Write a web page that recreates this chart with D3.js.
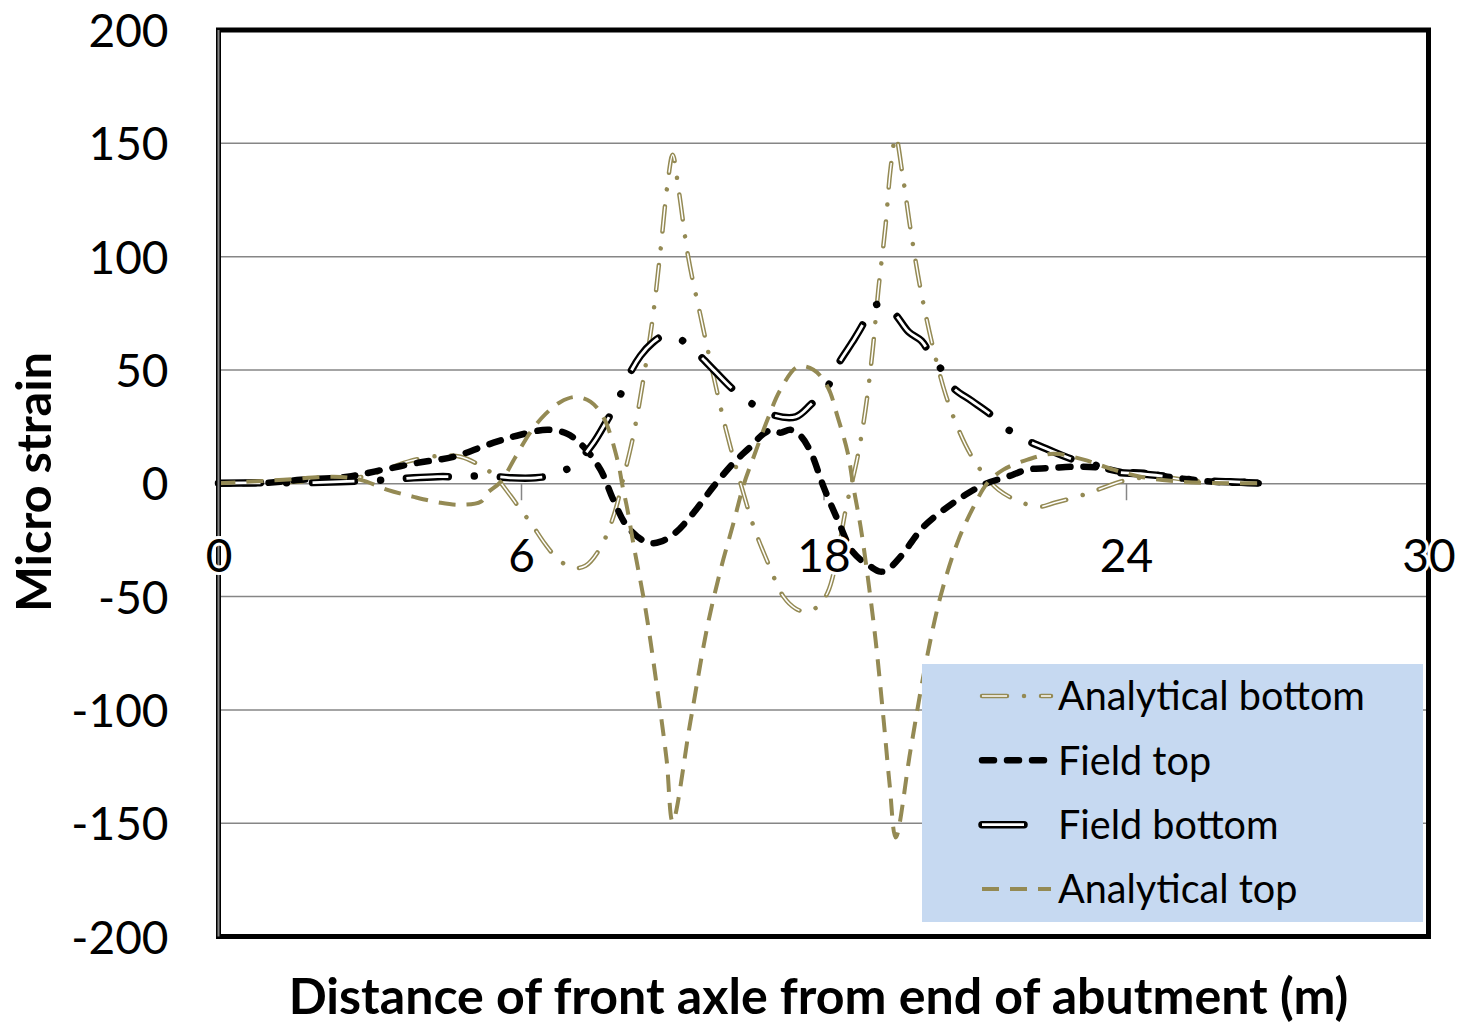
<!DOCTYPE html>
<html><head><meta charset="utf-8">
<script src="https://cdn.jsdelivr.net/npm/d3@7"></script>
<style>body{margin:0;background:#fff} svg{display:block}</style>
</head><body>
<svg id="chart" width="1462" height="1027"></svg>
<script>
// ---------------- DATA ----------------
const xTickValues = [0, 7.5, 15, 22.5, 30];
const xTickLabels = ["0", "6", "18", "24", "30"];
const yTickValues = [-200, -150, -100, -50, 0, 50, 100, 150, 200];
const seriesNames = ["Analytical bottom", "Field top", "Field bottom", "Analytical top"];

const analyticalBottom = [
 [0,0],[1.04,0.2],[2.03,0.7],[3.02,1.5],[3.6,3.0],[4.14,6.0],[4.76,9.9],[5.5,12.1],[6.0,11.7],[6.45,8.2],
 [6.82,3.7],[7.24,-5.5],[7.49,-11.7],[7.74,-17.4],[8.11,-27.1],[8.43,-33.7],[8.78,-37.3],[9.10,-36.4],[9.47,-28.4],
 [9.79,-14.8],[10.04,2.4],[10.29,21.4],[10.54,46.5],[10.76,72.1],[10.96,103],[11.13,131.6],[11.26,144.9],
 [11.41,129.3],[11.65,99.4],[11.95,73.9],[12.25,49.2],[12.57,24.5],[12.94,0.2],[13.27,-19.2],[13.61,-34.6],
 [14.01,-50.1],[14.31,-55.3],[14.56,-56.7],[14.85,-54.5],[15.10,-48.3],[15.30,-36],[15.55,-11.7],[15.84,11.2],
 [16.04,32.4],[16.22,58.9],[16.36,85.3],[16.54,114],[16.66,138.3],[16.79,152.8],[16.96,136.2],[17.16,111.8],
 [17.41,85.3],[17.70,61.1],[18.03,39],[18.35,23.6],[18.65,12.6],[19.02,2.9],[19.34,-2.9],[19.76,-7.3],
 [20.33,-10.4],[20.73,-8.6],[21.37,-5.5],[21.87,-2.4],[22.36,0.7],[22.86,2.4],[23.36,2.9],[23.98,1.5],
 [24.6,0.7],[25.79,0]
];
const fieldTop = [
 [0,0],[1.21,0.2],[2.03,1.5],[3.20,2.9],[4.09,6.0],[4.93,9.0],[5.83,11.7],[6.82,17.9],[7.49,21.4],[8.16,23.6],
 [8.65,21.8],[9.05,16.1],[9.47,6.0],[9.79,-7.3],[10.14,-19.2],[10.64,-26.2],[10.96,-25.8],[11.33,-21.8],
 [11.78,-13.0],[12.27,-1.5],[12.77,9.0],[13.19,16.1],[13.51,21.8],[13.73,23.6],[13.93,22.3],[14.18,23.6],
 [14.43,20.9],[14.68,13.9],[15.0,-1.5],[15.35,-16.1],[15.74,-30.6],[16.17,-36.8],[16.41,-39.0],[16.59,-38.1],
 [16.91,-32.4],[17.48,-19.2],[18.08,-10.4],[18.52,-5.1],[19.02,-0.2],[19.56,2.9],[20.06,6.0],[20.70,6.8],
 [21.30,7.3],[21.87,6.8],[22.36,5.1],[22.94,4.6],[23.53,2.9],[24.17,1.5],[24.67,0.7],[25.17,0.2],[25.51,0.7],[25.79,0]
];
const fieldBottom = [
 [0,0],[1.04,0.2],[2.03,0.2],[3.02,0.7],[4.19,1.5],[4.84,2.4],[5.43,2.9],[6.0,2.9],[6.62,3.3],[7.24,2.4],
 [7.86,2.4],[8.41,4.2],[8.90,9.5],[9.30,17.9],[9.60,26.7],[9.89,35.9],[10.14,46.5],[10.46,56.2],[10.76,62.0],
 [11.03,65.0],[11.38,64.2],[11.88,57.1],[12.32,49.2],[12.77,41.2],[13.19,35.5],[13.74,30.2],[14.31,29.3],
 [14.68,34.6],[15.10,42.6],[15.37,52.7],[15.72,62.4],[15.97,69.9],[16.17,77.4],[16.49,79.2],[16.79,74.3],
 [17.11,66.8],[17.43,62.8],[17.73,54.5],[18.03,47.9],[18.22,42.1],[18.67,36.4],[19.09,31.1],[19.51,24.5],
 [20.01,19.2],[20.58,14.8],[21.20,10.4],[21.87,7.3],[22.19,5.1],[22.86,4.2],[23.53,2.9],[24.35,1.1],[25.09,0.7],[25.79,0]
];
const analyticalTop = [
 [0,0],[1.61,1.5],[2.85,2.9],[3.52,1.5],[4.19,-2.9],[4.84,-6.0],[5.5,-8.6],[6.0,-9.5],[6.5,-8.2],[6.67,-4.2],
 [6.99,0.5],[7.36,11.5],[7.74,22.7],[8.11,30.6],[8.48,35.9],[8.85,38.1],[9.22,36.0],[9.55,28.9],[9.89,10.4],
 [10.02,-1.5],[10.14,-11.7],[10.29,-27.1],[10.59,-55.8],[10.88,-91.1],[11.11,-122],[11.26,-149.3],[11.70,-105.2],
 [12.12,-63.3],[12.45,-38.1],[12.77,-17.4],[13.02,-0.7],[13.27,11.7],[13.61,28.0],[13.93,41.2],[14.36,51.4],
 [14.75,50.1],[15.10,42.6],[15.35,29.3],[15.60,13.5],[15.74,-1.5],[15.92,-19.2],[16.09,-40.4],[16.29,-69],
 [16.49,-104.3],[16.64,-133],[16.79,-156.3],[17.16,-117.5],[17.53,-80],[17.90,-50],[18.32,-26.2],[18.72,-10.4],
 [19.07,0.2],[19.46,6.0],[20.06,10.4],[20.70,13.0],[21.45,10.4],[22.19,6.0],[22.86,2.9],[23.60,1.1],[24.35,0.2],
 [25.09,0],[25.79,0]
];

// ---------------- LAYOUT ----------------
const svg = d3.select("#chart");
const plot = {left: 218.5, right: 1428.5, top: 30, bottom: 936.5};
const x = d3.scaleLinear().domain([0, 30]).range([plot.left, plot.right]);
const y = d3.scaleLinear().domain([-200, 200]).range([plot.bottom, plot.top]);
const FONT = "Lato, 'Open Sans', sans-serif";
const KHAKI = "#948A54";
const GRID = "#868686";

svg.append("rect").attr("width", 1462).attr("height", 1027).attr("fill", "#fff");

function fit(sel, target) {
  const fs = parseFloat(sel.attr("font-size"));
  const w = sel.node().getComputedTextLength();
  sel.attr("font-size", fs * target / w);
}

// gridlines
svg.append("g").selectAll("line")
  .data(yTickValues.filter(v => v !== 0 && Math.abs(v) < 200))
  .join("line")
  .attr("x1", plot.left).attr("x2", plot.right)
  .attr("y1", d => y(d)).attr("y2", d => y(d))
  .attr("stroke", GRID).attr("stroke-width", 1.5);

// x axis line + ticks (at y = 0)
const gxLines = svg.append("g").attr("transform", `translate(0,${y(0)})`)
  .call(d3.axisBottom(x).tickValues(xTickValues).tickSize(17).tickSizeOuter(0).tickFormat(""));
gxLines.select(".domain").attr("stroke", GRID).attr("stroke-width", 1.5);
gxLines.selectAll(".tick line").attr("stroke", GRID).attr("stroke-width", 1.5);
gxLines.selectAll(".tick text").remove();

// series
const line = d3.line().x(d => x(d[0])).y(d => y(d[1])).curve(d3.curveCatmullRom.alpha(0.5));
const styles = {
  "Analytical bottom": [
    {stroke: KHAKI, width: 4.5, dash: "25 17 0.01 17", cap: "round"},
    {stroke: "#fff", width: 1.5, dash: "25 17 0.01 17", cap: "butt"}],
  "Field top": [
    {stroke: "#000", width: 6.5, dash: "12 13", cap: "round"}],
  "Field bottom": [
    {stroke: "#000", width: 7.5, dash: "42 26 0.01 26", cap: "round"},
    {stroke: "#fff", width: 2.8, dash: "42 26 0.01 26", cap: "butt"}],
  "Analytical top": [
    {stroke: KHAKI, width: 4, dash: "17 11", cap: "butt"}]
};
const seriesData = {
  "Analytical bottom": analyticalBottom,
  "Field top": fieldTop,
  "Field bottom": fieldBottom,
  "Analytical top": analyticalTop
};
const gSeries = svg.append("g");
seriesNames.forEach(name => {
  styles[name].forEach(s => {
    gSeries.append("path").datum(seriesData[name])
      .attr("d", line).attr("fill", "none")
      .attr("stroke", s.stroke).attr("stroke-width", s.width)
      .attr("stroke-dasharray", s.dash).attr("stroke-linecap", s.cap)
      .attr("stroke-linejoin", "round");
  });
});

// border
svg.append("rect").attr("x", plot.left).attr("y", plot.top)
  .attr("width", plot.right - plot.left).attr("height", plot.bottom - plot.top)
  .attr("fill", "none").attr("stroke", "#000").attr("stroke-width", 5);
svg.append("line").attr("x1", plot.left).attr("x2", plot.left)
  .attr("y1", plot.top).attr("y2", plot.bottom)
  .attr("stroke", GRID).attr("stroke-width", 2);

// y axis labels (plain hyphen-minus as in the reference)
const gy = svg.append("g").attr("transform", `translate(${plot.left},0)`)
  .call(d3.axisLeft(y).tickValues(yTickValues).tickSize(0).tickPadding(50).tickFormat(d => String(d)));
gy.select(".domain").remove();
gy.selectAll(".tick text").attr("font-family", FONT).attr("font-size", 46).attr("fill", "#000").attr("dy", "0.36em");

// x axis labels
const gx = svg.append("g").attr("transform", `translate(0,${y(0)})`)
  .call(d3.axisBottom(x).tickValues(xTickValues).tickSize(0).tickPadding(56)
    .tickFormat((d, i) => xTickLabels[i]));
gx.select(".domain").remove();
gx.selectAll(".tick line").remove();
gx.selectAll(".tick text").attr("font-family", FONT).attr("font-size", 46).attr("fill", "#000")
  .attr("stroke", "#fff").attr("stroke-width", 6).attr("paint-order", "stroke").attr("stroke-linejoin", "round");

// axis titles
const yTitle = svg.append("text").attr("transform", "translate(51,482) rotate(-90)")
  .attr("text-anchor", "middle").attr("font-family", FONT).attr("font-weight", "bold")
  .attr("font-size", 46).attr("fill", "#000").text("Micro strain");
fit(yTitle, 260);
const xTitle = svg.append("text").attr("x", 818.5).attr("y", 1014)
  .attr("text-anchor", "middle").attr("font-family", FONT).attr("font-weight", "bold")
  .attr("font-size", 46).attr("fill", "#000").text("Distance of front axle from end of abutment (m)");
fit(xTitle, 1060);

// legend
const lg = svg.append("g");
lg.append("rect").attr("x", 922).attr("y", 664).attr("width", 501).attr("height", 258).attr("fill", "#C6D9F1");
const legendY = d3.scalePoint().domain(seriesNames).range([696, 889]);
const symEnd = {"Analytical bottom": 1051, "Field top": 1046, "Field bottom": 1030, "Analytical top": 1051};
seriesNames.forEach(name => {
  const cy = legendY(name);
  styles[name].forEach(s => {
    lg.append("line").attr("x1", 982).attr("x2", symEnd[name]).attr("y1", cy).attr("y2", cy)
      .attr("stroke", s.stroke).attr("stroke-width", s.width)
      .attr("stroke-dasharray", s.dash).attr("stroke-linecap", s.cap);
  });
});
const lt = lg.selectAll("text.leg").data(seriesNames).join("text").attr("class", "leg")
  .attr("x", 1058).attr("y", d => legendY(d)).attr("dy", "0.36em")
  .attr("font-family", FONT).attr("font-size", 40).attr("fill", "#000").text(d => d);
const first = lt.filter(d => d === "Analytical bottom");
fit(first, 307);
lt.attr("font-size", first.attr("font-size"));
</script>
</body></html>
